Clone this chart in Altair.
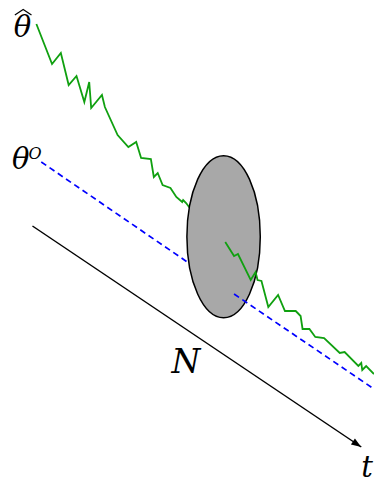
import altair as alt
import pandas as pd

# Estimated path of theta-hat (time, value), before the gap (hidden under the ellipse at the end)
green_t1 = [37, 53, 62, 70, 78, 86, 91, 93, 104, 107, 120, 131, 139, 144, 154, 157, 161, 166, 174, 180, 186, 187, 190, 193, 230]
green_v1 = [24, 64, 53, 85, 76, 102, 82, 108, 95, 107, 135, 147, 142, 158, 159, 177, 173, 185, 188, 197, 202, 200, 203, 207, 242]
# after the gap
green_t2 = [230, 239, 243, 256, 261, 263, 267, 274, 284, 291, 302, 307, 309, 316, 322, 331, 347, 352, 366, 369, 370, 374, 382]
green_v2 = [242, 256, 254, 280, 272, 280, 281, 307, 295, 311, 311, 316, 329, 329, 337, 338, 353, 352, 366, 363, 370, 366, 374]

# theta^o (true value), dashed
blue_t1 = [42, 239]
blue_v1 = [162, 294]
blue_t2 = [239, 382]
blue_v2 = [294, 389]

# time axis arrow
axis_t = [33]
axis_v = [226]
axis_t2 = [369]
axis_v2 = [447]

# window N (ellipse centre)
ell_t = [228.3]
ell_v = [236.7]

# wide hat over theta
hat_t = [15, 23.5, 32]
hat_v = [15, 9.5, 15]

labels = ["θ", "O", "θ", "N", "t"]
label_t = [12, 29, 14, 175, 369]
label_v = [169, 159, 37, 373, 477]
label_size = [29, 16, 29, 33, 29]

X0, X1 = 8, 382
Y0, Y1 = 8, 479
W, H = 366, 471
xs = alt.Scale(domain=[X0, X1], nice=False, zero=False)
ys = alt.Scale(domain=[Y0, Y1], nice=False, zero=False, reverse=True)

def line_df(t, v):
    return pd.DataFrame({"t": t, "v": v})

X = lambda: alt.X("t:Q", scale=xs, axis=None)
Y = lambda: alt.Y("v:Q", scale=ys, axis=None)

GREEN = "#10a010"
BLUE = "#0000ff"

g1 = alt.Chart(line_df(green_t1, green_v1)).mark_line(color=GREEN, strokeWidth=1.8).encode(x=X(), y=Y(), order="t:Q")
g2 = alt.Chart(line_df(green_t2, green_v2)).mark_line(color=GREEN, strokeWidth=1.8).encode(x=X(), y=Y(), order="t:Q")
b1 = alt.Chart(line_df(blue_t1, blue_v1)).mark_line(color=BLUE, strokeWidth=1.7, strokeDash=[6, 4]).encode(x=X(), y=Y())
b2 = alt.Chart(line_df(blue_t2, blue_v2)).mark_line(color=BLUE, strokeWidth=1.7, strokeDash=[6, 4]).encode(x=X(), y=Y())

ax_df = pd.DataFrame({"t": axis_t, "v": axis_v, "t2": axis_t2, "v2": axis_v2})
rule = alt.Chart(ax_df).mark_rule(color="black", strokeWidth=1.5).encode(
    x=X(), y=Y(), x2="t2:Q", y2="v2:Q")
head = alt.Chart(ax_df).mark_point(
    shape="M0,0L0.36,1L-0.36,1Z", filled=True, color="black", opacity=1, size=400, angle=123.4
).encode(x=alt.X("t2:Q", scale=xs, axis=None), y=alt.Y("v2:Q", scale=ys, axis=None))

ell_df = pd.DataFrame({"t": ell_t, "v": ell_v})
ellipse = alt.Chart(ell_df).mark_point(
    shape="M-0.453,0A0.453,1,0,1,0,0.453,0A0.453,1,0,1,0,-0.453,0Z",
    filled=True, fill="#a8a8a8", fillOpacity=1, stroke="black", strokeWidth=1.5, opacity=1,
    size=162 * 162,
).encode(x=X(), y=Y())

hat = alt.Chart(line_df(hat_t, hat_v)).mark_line(color="black", strokeWidth=1.2).encode(x=X(), y=Y(), order="t:Q")

lab_df = pd.DataFrame({"t": label_t, "v": label_v, "label": labels, "size": label_size})
text = alt.Chart(lab_df).mark_text(
    align="left", baseline="alphabetic", font="DejaVu Serif", fontStyle="italic", color="black"
).encode(x=X(), y=Y(), text="label:N", size=alt.Size("size:Q", scale=None, legend=None))

chart = alt.layer(g1, b1, rule, head, ellipse, g2, b2, hat, text).properties(
    width=W, height=H, padding=0, autosize=alt.AutoSizeParams(type="none")
).configure_view(stroke=None)

chart.save("out.html", embed_options={"renderer": "svg", "actions": False})
